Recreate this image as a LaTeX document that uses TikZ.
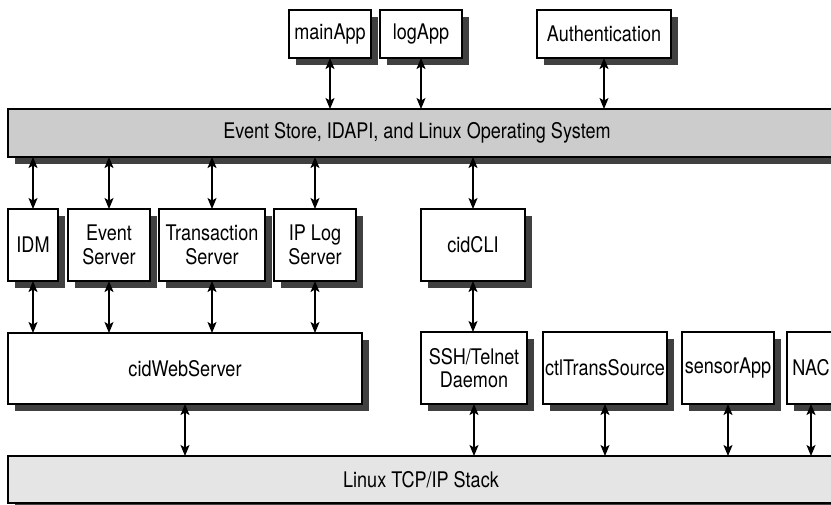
\documentclass[tikz,border=0pt]{standalone}
\usepackage{fontspec}
\setmainfont[FakeStretch=0.84]{TeX Gyre Heros}
\usetikzlibrary{shadows,arrows.meta}

\tikzset{
  x=1pt, y=-1pt,
  box/.style={draw=black, line width=1.2pt, fill=white, inner sep=0pt, outer sep=0pt,
    align=center, font=\fontsize{21.5}{23.3}\selectfont,
    drop shadow={shadow xshift=6.5pt, shadow yshift=-6.5pt, fill=black!75, opacity=1}},
  layer/.style={box, fill=black!20},
  baselayer/.style={box, fill=black!10, drop shadow={opacity=0}},
  txt/.style={inner sep=0pt, font=\fontsize{21.5}{23.3}\selectfont},
  link/.style={line width=1.4pt, {Stealth[length=11pt,width=9pt,inset=2.5pt]}-{Stealth[length=11pt,width=9pt,inset=2.5pt]}}
}

\begin{document}
\begin{tikzpicture}
\useasboundingbox (0,0) rectangle (831,504);
\clip (0,0) rectangle (831,504);

% applications on top
\node[box, minimum width=82pt, minimum height=48pt] (mainApp) at (330,34) {mainApp};
\node[box, minimum width=82pt, minimum height=48pt] (logApp) at (421,34) {logApp};
\node[box, minimum width=134pt, minimum height=48pt] (auth) at (604,34) {Authentication};

% event store layer
\node[layer, minimum width=842pt, minimum height=48pt] (evbar) at (429,133) {};
\node[txt] (evlabel) at (417,133) {Event Store, IDAPI, and Linux Operating System};

% middle row
\node[box, minimum width=50pt, minimum height=72pt] (idm) at (33,245) {IDM};
\node[box, minimum width=82pt, minimum height=72pt] (evsrv) at (109,245) {Event\\Server};
\node[box, minimum width=106pt, minimum height=72pt] (trsrv) at (212,245) {Transaction\\Server};
\node[box, minimum width=82pt, minimum height=72pt] (iplog) at (315,245) {IP Log\\Server};
\node[box, minimum width=104pt, minimum height=72pt] (cidcli) at (473,245) {cidCLI};

% lower row
\node[box, minimum width=354pt, minimum height=71pt] (web) at (185,368.5) {cidWebServer};
\node[box, minimum width=106pt, minimum height=72pt] (ssh) at (474,368) {SSH/Telnet\\Daemon};
\node[box, minimum width=124pt, minimum height=72pt] (ctl) at (605,368) {ctlTransSource};
\node[box, minimum width=92pt, minimum height=72pt] (sensor) at (728,368) {sensorApp};
\node[box, minimum width=48pt, minimum height=72pt] (nac) at (811,368) {NAC};

% network stack
\node[baselayer, minimum width=842pt, minimum height=47pt] (tcp) at (429,479.5) {};
\node[txt] (tcplabel) at (421,479.5) {Linux TCP/IP Stack};

% connectors
\foreach \n in {mainApp,logApp,auth}
  \draw[link] (\n.south) -- (\n.south |- evbar.north);
\foreach \n in {idm,evsrv,trsrv,iplog,cidcli}
  \draw[link] (\n.north |- evbar.south) -- (\n.north);
\foreach \n in {idm,evsrv,trsrv,iplog}
  \draw[link] (\n.south) -- (\n.south |- web.north);
\draw[link] (cidcli.south) -- (cidcli.south |- ssh.north);
\draw[link] (web.south) -- (web.south |- tcp.north);
\foreach \n in {ssh,ctl,sensor,nac}
  \draw[link] (\n.south) -- (\n.south |- tcp.north);
\end{tikzpicture}
\end{document}
